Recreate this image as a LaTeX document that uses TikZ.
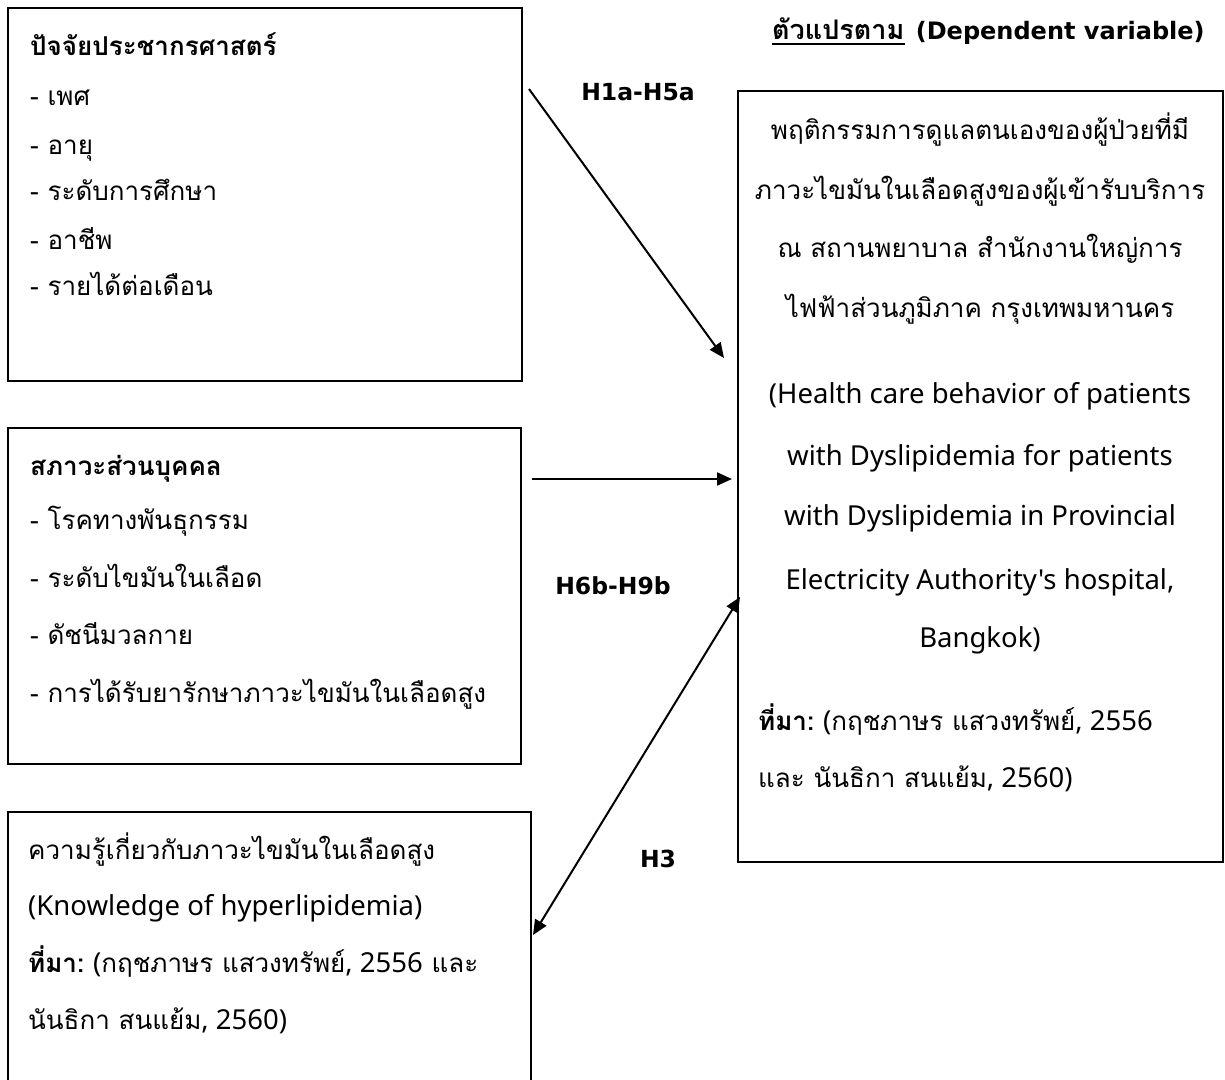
\documentclass[tikz,border=0pt]{standalone}
\usepackage{fontspec}
\usetikzlibrary{arrows.meta}
\newfontfamily\thaifont[Script=Thai]{Loma}
\newfontfamily\labfont{DejaVu Sans}
\newfontfamily\latfam{Noto Sans}
\newcommand\bodysz{\fontsize{26}{30}\selectfont}
\newcommand\lt[1]{{\latfam\fontsize{27.5}{30}\selectfont #1}}
\frenchspacing
\begin{document}
\begin{tikzpicture}[x=1pt,y=-1pt,
  box/.style={draw, line width=1.6pt},
  ltxt/.style={anchor=base west, inner sep=0pt, font=\thaifont\bodysz},
  ctxt/.style={anchor=base, inner sep=0pt, font=\thaifont\bodysz},
  hlab/.style={anchor=base, inner sep=0pt, font=\labfont\fontsize{23.5}{30}\selectfont\bfseries},
  conn/.style={line width=2pt, -{Triangle[length=15pt,width=13pt]}},
  dconn/.style={line width=2pt, {Triangle[length=15pt,width=13pt]}-{Triangle[length=15pt,width=13pt]}},
]
\clip (0,0) rectangle (1225,1079);
\fill[white] (0,0) rectangle (1225,1079);

% boxes
\draw[box] (8,8) rectangle (522,381);
\draw[box] (8,428) rectangle (521,764);
\draw[box] (8,812) rectangle (531,1100);
\draw[box] (738,91) rectangle (1223,862);

% box 1
\node[ltxt, font=\thaifont\bodysz\bfseries] (b1t) at (30,55) {ปัจจัยประชากรศาสตร์};
\node[ltxt] (b1a) at (30,105) {- เพศ};
\node[ltxt] (b1b) at (30,154) {- อายุ};
\node[ltxt] (b1c) at (30,200) {- ระดับการศึกษา};
\node[ltxt] (b1d) at (30,249) {- อาชีพ};
\node[ltxt] (b1e) at (30,295) {- รายได้ต่อเดือน};

% box 2
\node[ltxt, font=\thaifont\bodysz\bfseries] (b2t) at (30,475) {สภาวะส่วนบุคคล};
\node[ltxt] (b2a) at (30,529) {- โรคทางพันธุกรรม};
\node[ltxt] (b2b) at (30,587) {- ระดับไขมันในเลือด};
\node[ltxt] (b2c) at (30,644) {- ดัชนีมวลกาย};
\node[ltxt] (b2d) at (30,702) {- การได้รับยารักษาภาวะไขมันในเลือดสูง};

% box 3
\node[ltxt] (b3a) at (28,859) {ความรู้เกี่ยวกับภาวะไขมันในเลือดสูง};
\node[ltxt] (b3b) at (28,915) {\lt{(Knowledge of hyperlipidemia)}};
\node[ltxt] (b3c) at (28,972) {{\bfseries ที่มา:} \lt{(}กฤชภาษร แสวงทรัพย์\lt{, 2556} และ};
\node[ltxt] (b3d) at (28,1029) {นันธิกา สนแย้ม\lt{, 2560)}};

% header
\node[anchor=base west, inner sep=0pt, font=\thaifont\fontsize{27}{30}\selectfont\bfseries] (hd) at (772,39) {ตัวแปรตาม};
\draw[line width=1.5pt] ([yshift=-5pt]hd.base west) -- ([yshift=-5pt]hd.base east);
\node[anchor=base west, inner sep=0pt, font=\labfont\fontsize{24}{30}\selectfont\bfseries] (hd2) at ([xshift=11pt]hd.base east) {(Dependent variable)};

% right box
\node[ctxt] (r1) at (980,139) {พฤติกรรมการดูแลตนเองของผู้ป่วยที่มี};
\node[ctxt] (r2) at (980,199) {ภาวะไขมันในเลือดสูงของผู้เข้ารับบริการ};
\node[ctxt] (r3) at (980,257) {ณ สถานพยาบาล สำนักงานใหญ่การ};
\node[ctxt] (r4) at (980,317) {ไฟฟ้าส่วนภูมิภาค กรุงเทพมหานคร};
\node[ctxt] (r5) at (980,403) {\lt{(Health care behavior of patients}};
\node[ctxt] (r6) at (980,465) {\lt{with Dyslipidemia for patients}};
\node[ctxt] (r7) at (980,525) {\lt{with Dyslipidemia in Provincial}};
\node[ctxt] (r8) at (980,589) {\lt{Electricity Authority's hospital,}};
\node[ctxt] (r9) at (980,647) {\lt{Bangkok)}};
\node[ltxt] (r10) at (758,730) {{\bfseries ที่มา:} \lt{(}กฤชภาษร แสวงทรัพย์\lt{, 2556}};
\node[ltxt] (r11) at (758,787) {และ นันธิกา สนแย้ม\lt{, 2560)}};

% hypothesis labels
\node[hlab] (h1) at (638,100) {H1a-H5a};
\node[hlab] (h2) at (613,594) {H6b-H9b};
\node[hlab] (h3) at (658,867) {H3};

% connectors
\coordinate (a1s) at (529,89);
\coordinate (a1e) at (724,358);
\coordinate (a2s) at (532,479);
\coordinate (a2e) at (732,479);
\coordinate (a3s) at (533,935);
\coordinate (a3e) at (740,597);
\draw[conn] (a1s) -- (a1e);
\draw[conn] (a2s) -- (a2e);
\draw[dconn] (a3s) -- (a3e);
\end{tikzpicture}
\end{document}
